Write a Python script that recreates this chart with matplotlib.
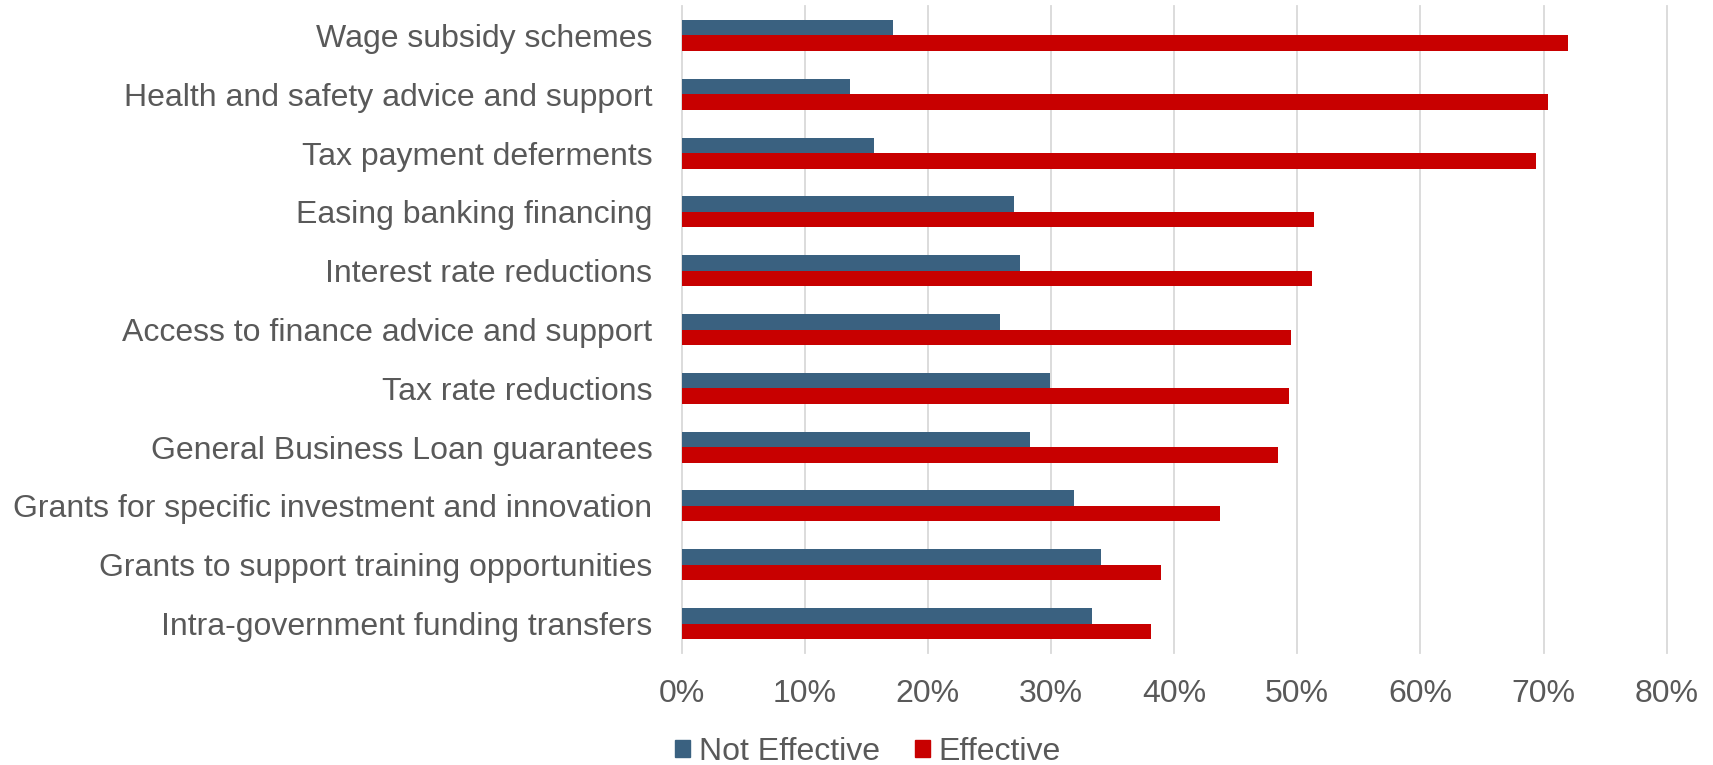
import matplotlib
matplotlib.use("Agg")
import matplotlib.pyplot as plt
from matplotlib.patches import Patch
from matplotlib.ticker import PercentFormatter

categories = [
    "Wage subsidy schemes",
    "Health and safety advice and support",
    "Tax payment deferments",
    "Easing banking financing",
    "Interest rate reductions",
    "Access to finance advice and support",
    "Tax rate reductions",
    "General Business Loan guarantees",
    "Grants for specific investment and innovation",
    "Grants to support training opportunities",
    "Intra-government funding transfers",
]
not_effective = [17.2, 13.7, 15.6, 27.0, 27.5, 25.9, 29.9, 28.3, 31.9, 34.1, 33.3]
effective = [72.0, 70.4, 69.4, 51.4, 51.2, 49.5, 49.3, 48.4, 43.7, 38.9, 38.1]
xticks = [0, 10, 20, 30, 40, 50, 60, 70, 80]

BLUE = "#3A6180"
RED = "#C80000"
TXT = "#595959"
GRID = "#D9D9D9"

plt.rcParams['font.family'] = ['Liberation Sans', 'DejaVu Sans']

fig = plt.figure(figsize=(17.13, 7.65), dpi=100)
ax = fig.add_axes([681.5 / 1713, 1 - 653 / 765, (1666.7 - 681.5) / 1713, (653 - 6) / 765])

h = 0.264
ys = list(range(len(categories)))
ax.barh([y - h / 2 for y in ys], not_effective, height=h, color=BLUE, label="Not Effective", zorder=3)
ax.barh([y + h / 2 for y in ys], effective, height=h, color=RED, label="Effective", zorder=3)

ax.set_ylim(len(categories) - 0.5, -0.5)
ax.set_xlim(0, 80)
ax.set_yticks(ys)
ax.set_yticklabels(categories)
ax.set_xticks(xticks)
ax.xaxis.set_major_formatter(PercentFormatter(decimals=0))
ax.tick_params(axis='both', length=0, labelsize=23, labelcolor=TXT)
ax.tick_params(axis='y', pad=21)
ax.tick_params(axis='x', pad=19)
for s in ax.spines.values():
    s.set_visible(False)
ax.xaxis.grid(True, color=GRID, linewidth=1.3, zorder=0)
for gl in ax.get_xgridlines():
    gl.set_clip_on(False)
ax.set_axisbelow(True)

handles = [Patch(color=BLUE, label="Not Effective"), Patch(color=RED, label="Effective")]
fig.legend(handles=handles, loc='center', bbox_to_anchor=(868 / 1713, 1 - 752 / 765),
           ncol=2, frameon=False, fontsize=23, labelcolor=TXT,
           handlelength=0.47, handleheight=0.47, handletextpad=0.27,
           columnspacing=1.1, borderpad=0, borderaxespad=0)

fig.savefig("out.png", dpi=100)
